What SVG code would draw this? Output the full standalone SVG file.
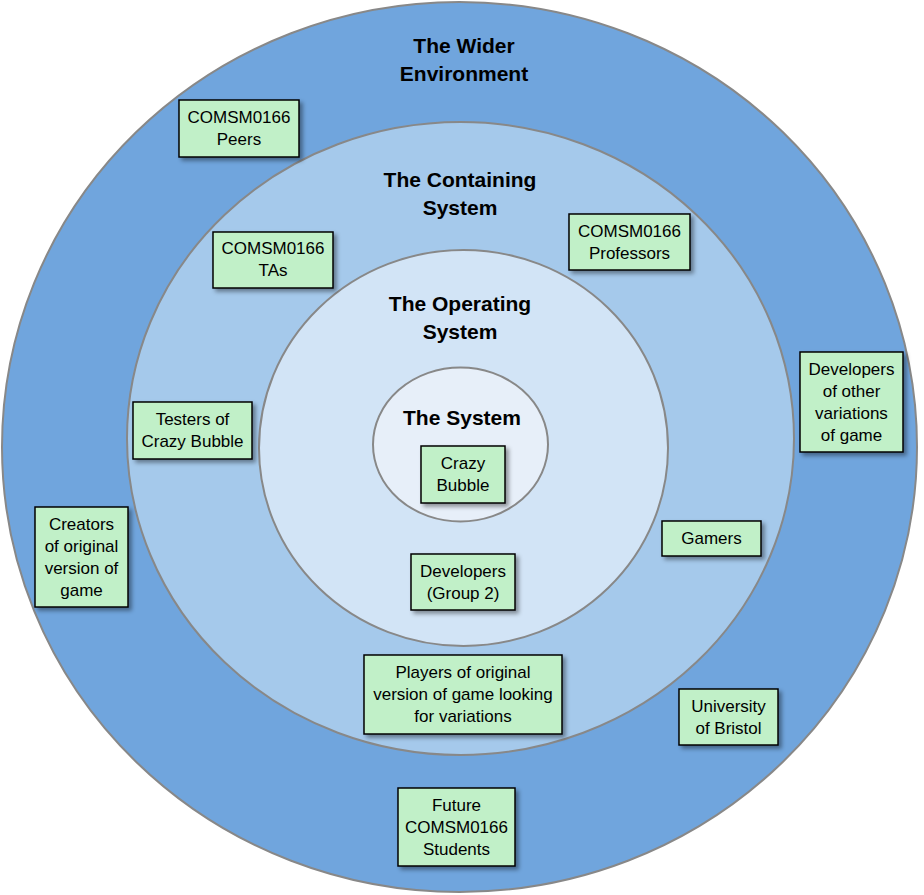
<svg xmlns="http://www.w3.org/2000/svg" width="924" height="895" viewBox="0 0 924 895">
<defs>
<filter id="sh" x="-20%" y="-20%" width="150%" height="150%">
<feDropShadow dx="3" dy="3" stdDeviation="2" flood-color="#000" flood-opacity="0.4"/>
</filter>
<style>
.ring{stroke:#888;stroke-width:2}
.box{fill:#C1F0C8;stroke:#000;stroke-width:1.5;filter:url(#sh)}
.t{font-family:"Liberation Sans",Arial,sans-serif;font-size:17px;fill:#000;text-anchor:middle}
.h{font-family:"Liberation Sans",Arial,sans-serif;font-size:21px;font-weight:bold;fill:#000;text-anchor:middle}
</style>
</defs>
<rect width="924" height="895" fill="#fff"/>
<g id="wider">
<ellipse class="ring" cx="459.5" cy="447" rx="457.5" ry="445" fill="#70A5DD"/>
<text class="h" x="464" y="53">The Wider</text>
<text class="h" x="464" y="81">Environment</text>
</g>
<g id="containing">
<ellipse class="ring" cx="460.5" cy="438.5" rx="333.5" ry="316.5" fill="#A5C9EB"/>
<text class="h" x="460" y="187">The Containing</text>
<text class="h" x="460" y="215">System</text>
</g>
<g id="operating">
<ellipse class="ring" cx="463.5" cy="448" rx="204.5" ry="198" fill="#D2E4F6"/>
<text class="h" x="460" y="311">The Operating</text>
<text class="h" x="460" y="339">System</text>
</g>
<g id="system">
<ellipse class="ring" cx="460.5" cy="444.5" rx="87.5" ry="77" fill="#E7EFF9"/>
<text class="h" x="462" y="425">The System</text>
</g>
<g id="peers">
<rect class="box" x="179" y="100" width="120" height="57"/>
<text class="t" x="239" y="123">COMSM0166</text>
<text class="t" x="239" y="145">Peers</text>
</g>
<g id="tas">
<rect class="box" x="213" y="232" width="120" height="56"/>
<text class="t" x="273" y="254">COMSM0166</text>
<text class="t" x="273" y="276">TAs</text>
</g>
<g id="professors">
<rect class="box" x="569" y="214" width="121" height="56"/>
<text class="t" x="629.5" y="237">COMSM0166</text>
<text class="t" x="629.5" y="259">Professors</text>
</g>
<g id="devothers">
<rect class="box" x="800" y="352" width="103" height="100"/>
<text class="t" x="851.5" y="375">Developers</text>
<text class="t" x="851.5" y="397">of other</text>
<text class="t" x="851.5" y="419">variations</text>
<text class="t" x="851.5" y="441">of game</text>
</g>
<g id="testers">
<rect class="box" x="133" y="402" width="119" height="57"/>
<text class="t" x="192.5" y="425">Testers of</text>
<text class="t" x="192.5" y="447">Crazy Bubble</text>
</g>
<g id="crazybubble">
<rect class="box" x="421" y="446" width="84" height="57"/>
<text class="t" x="463" y="469">Crazy</text>
<text class="t" x="463" y="491">Bubble</text>
</g>
<g id="gamers">
<rect class="box" x="662" y="521" width="99" height="35"/>
<text class="t" x="711.5" y="544">Gamers</text>
</g>
<g id="creators">
<rect class="box" x="35" y="507" width="93" height="100"/>
<text class="t" x="81.5" y="530">Creators</text>
<text class="t" x="81.5" y="552">of original</text>
<text class="t" x="81.5" y="574">version of</text>
<text class="t" x="81.5" y="596">game</text>
</g>
<g id="developers">
<rect class="box" x="411" y="554" width="104" height="56"/>
<text class="t" x="463" y="577">Developers</text>
<text class="t" x="463" y="599">(Group 2)</text>
</g>
<g id="players">
<rect class="box" x="364" y="655" width="198" height="79"/>
<text class="t" x="463" y="678">Players of original</text>
<text class="t" x="463" y="700">version of game looking</text>
<text class="t" x="463" y="722">for variations</text>
</g>
<g id="bristol">
<rect class="box" x="679" y="689" width="99" height="56"/>
<text class="t" x="728.5" y="712">University</text>
<text class="t" x="728.5" y="734">of Bristol</text>
</g>
<g id="future">
<rect class="box" x="398" y="788" width="117" height="78"/>
<text class="t" x="456.5" y="811">Future</text>
<text class="t" x="456.5" y="833">COMSM0166</text>
<text class="t" x="456.5" y="855">Students</text>
</g>
<g id="connectors"></g>
</svg>
